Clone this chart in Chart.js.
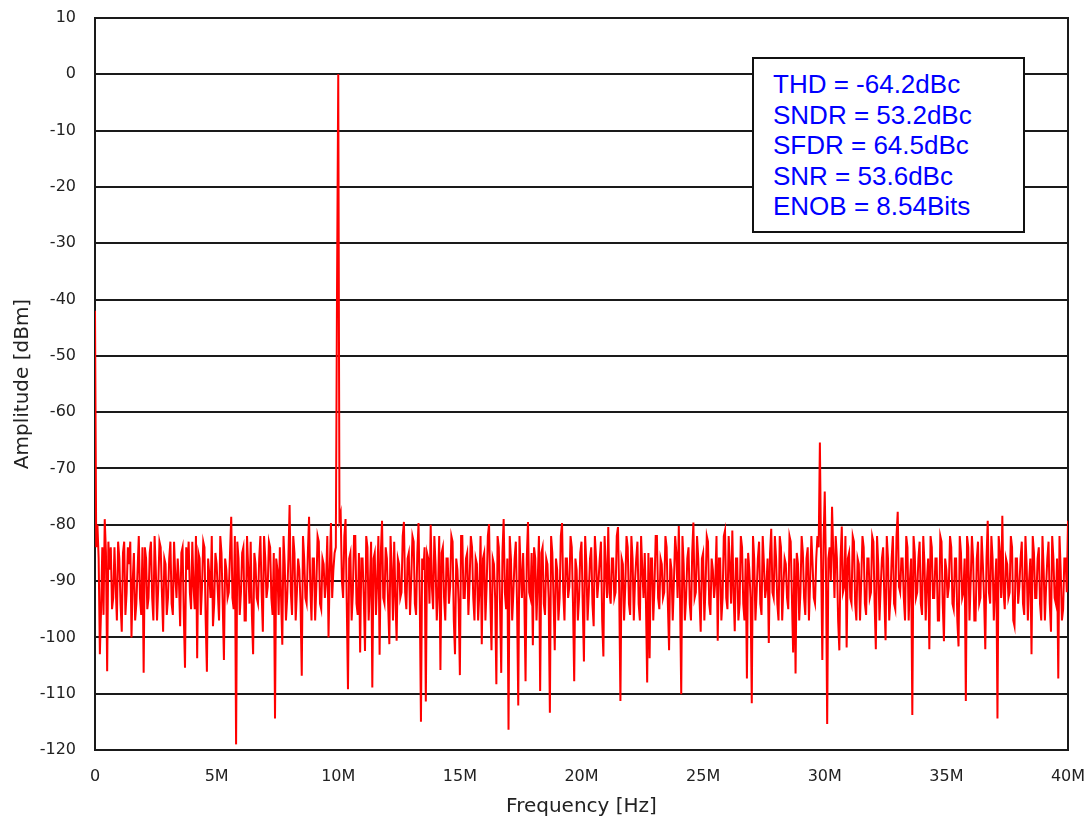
<!DOCTYPE html>
<html>
<head>
<meta charset="utf-8">
<script src="https://cdn.jsdelivr.net/npm/chart.js@4.4.1/dist/chart.umd.min.js"></script>
<style>
	body { margin: 0; background: #fff; }
	#wrap { position: relative; width: 1091px; height: 825px; }
	#stats {
		position: absolute; left: 752px; top: 57px; width: 273px; height: 176px;
		border: 2px solid #111; background: #fff; box-sizing: border-box;
		font-family: 'Liberation Sans', Arial, sans-serif; font-size: 26px; line-height: 30.6px;
		color: #0000ff; padding: 10px 0 0 19px;
	}
</style>
</head>
<body>
<div id="wrap">
	<canvas id="fft" width="1091" height="825"></canvas>
	<div id="stats">
		<div>THD = -64.2dBc</div>
		<div>SNDR = 53.2dBc</div>
		<div>SFDR = 64.5dBc</div>
		<div>SNR = 53.6dBc</div>
		<div>ENOB = 8.54Bits</div>
	</div>
</div>
<script>
// spectrum bins, 0.05 MHz apart (one row = 2 MHz)
const binWidth = 0.05e6;
const amplitude = [
	-42, -84, -80, -86, -103, -95, -84, -96, -79, -85, -106, -83, -88, -84, -95, -93, -84, -91, -97, -83, -86, -94, -99, -85, -83, -96, -92, -84, -87, -83, -100, -90, -85, -97, -94, -88, -82, -93, -96, -84,
	-106.3, -84, -86, -95, -93, -85, -83, -93, -97, -82, -88, -97, -91, -83, -84, -92, -99, -86, -87, -96, -93, -86, -83, -94, -96, -83, -89, -93, -86, -90, -98, -85, -84, -96, -105.4, -84, -88, -83, -92, -95,
	-83, -91, -95, -82, -103.7, -85, -86, -96, -91, -83, -84, -97, -106.1, -86, -89, -93, -82, -98, -94, -85, -87, -92, -97, -82, -85, -94, -104, -86, -88, -93, -92, -85, -78.6, -93, -95, -82, -119, -83, -86, -96,
	-92, -85, -84, -97, -97, -82, -88, -94, -83, -96, -103, -85, -87, -93, -94, -86, -82, -92, -99, -82, -86, -93, -91, -83, -84, -93, -96, -85, -114.4, -86, -88, -96, -84, -93, -101.3, -82, -87, -97, -93, -86,
	-76.5, -92, -96, -82, -85, -97, -92, -86, -88, -94, -106.8, -82, -86, -93, -94, -85, -78.6, -91, -97, -86, -86, -97, -91, -82, -83, -94, -95, -86, -87, -93, -90, -82, -100, -88, -79.7, -93, -88, -85, -84, -38,
	0, -79, -78, -90, -93, -82, -79, -94, -109.2, -86, -85, -97, -92, -82, -82, -94, -96, -85, -102.7, -86, -86, -93, -102.4, -82, -84, -97, -91, -83, -108.9, -86, -85, -96, -90, -82, -103.1, -85, -79.3, -93, -94, -84,
	-86, -94, -101.2, -82, -88, -97, -83, -93, -100.6, -86, -87, -93, -92, -82, -79.5, -92, -95, -86, -85, -96, -90, -82, -83, -94, -96, -85, -79.7, -93, -115, -86, -88, -84, -111.4, -85, -86, -94, -80, -91, -95, -82,
	-87, -97, -92, -82, -105.8, -85, -84, -93, -97, -86, -86, -94, -91, -82, -83, -97, -103, -86, -88, -94, -106.7, -82, -82, -93, -93, -86, -85, -96, -90, -82, -84, -93, -97, -86, -87, -97, -92, -82, -101.2, -86,
	-85, -97, -91, -82, -79.9, -93, -102.3, -86, -87, -93, -108.3, -82, -84, -94, -106.3, -85, -79, -92, -95, -86, -116.4, -82, -86, -97, -92, -86, -83, -94, -112.1, -82, -88, -93, -85, -93, -107.8, -86, -79.5, -92, -93, -85,
	-101.4, -84, -86, -97, -90, -82, -109.5, -85, -84, -94, -96, -86, -87, -93, -113.4, -82, -85, -93, -102.3, -86, -88, -97, -93, -82, -79.7, -92, -97, -86, -86, -93, -91, -82, -84, -94, -107.8, -86, -88, -97, -93, -85,
	-83, -94, -104.3, -82, -87, -97, -92, -86, -84, -94, -98, -82, -86, -93, -90, -86, -83, -97, -103.4, -82, -88, -93, -80.4, -92, -94, -86, -86, -93, -92, -82, -80.4, -92, -111.3, -86, -87, -97, -91, -82, -84, -94,
	-96, -82, -86, -97, -90, -86, -83, -94, -97, -82, -88, -93, -85, -94, -108, -85, -103.7, -86, -86, -97, -91, -82, -82, -93, -95, -86, -87, -93, -92, -82, -84, -94, -102.3, -86, -88, -97, -90, -82, -85, -93,
	-80.2, -93, -110.1, -82, -87, -97, -93, -86, -84, -94, -97, -85, -79.6, -93, -92, -82, -86, -93, -99, -86, -85, -97, -91, -82, -83, -94, -96, -86, -88, -93, -90, -82, -100.6, -86, -86, -97, -93, -82, -81, -93,
	-95, -82, -87, -94, -81, -92, -98.9, -86, -86, -97, -94, -82, -84, -94, -97, -86, -107.3, -85, -88, -93, -111.7, -82, -86, -97, -92, -86, -83, -94, -96, -82, -87, -93, -91, -86, -101, -85, -80.7, -92, -93, -82,
	-86, -94, -97, -82, -84, -97, -91, -86, -87, -93, -95, -82, -83, -93, -102.7, -86, -106.4, -85, -87, -97, -92, -82, -85, -93, -96, -86, -84, -97, -90, -82, -87, -93, -94, -86, -82, -84, -65.4, -86, -104, -83,
	-74.1, -88, -115.4, -86, -84, -90, -76.8, -85, -93, -82, -86, -97, -102.3, -86, -80.3, -92, -91, -82, -101.8, -86, -85, -93, -94, -82, -83, -94, -97, -86, -87, -97, -90, -82, -84, -94, -96, -86, -86, -93, -92, -82,
	-83, -94, -102.1, -82, -87, -97, -91, -86, -84, -93, -100.5, -82, -86, -97, -93, -86, -82, -94, -95, -82, -77.7, -91, -92, -86, -86, -93, -97, -82, -84, -97, -90, -86, -113.8, -82, -85, -93, -92, -86, -83, -94,
	-96, -82, -87, -97, -90, -86, -102.1, -82, -84, -93, -93, -86, -86, -97, -97, -82, -83, -94, -100.7, -86, -88, -93, -91, -82, -84, -94, -95, -86, -86, -97, -101.6, -82, -85, -93, -92, -86, -111.3, -82, -84, -97,
	-90, -82, -86, -97, -97, -86, -83, -94, -93, -82, -87, -93, -102.1, -86, -79.3, -92, -94, -82, -86, -97, -91, -86, -114.4, -82, -85, -93, -78.4, -92, -95, -86, -87, -93, -92, -82, -84, -97, -98, -86, -86, -94,
	-91, -86, -83, -94, -96, -82, -87, -97, -90, -86, -103, -82, -85, -93, -93, -86, -84, -94, -97, -82, -88, -97, -91, -86, -83, -94, -99, -82, -86, -93, -94, -86, -107.3, -82, -88, -97, -95, -86, -86, -92,
	-79.3
];
const xTicks = [0, 5e6, 10e6, 15e6, 20e6, 25e6, 30e6, 35e6, 40e6];

const points = amplitude.map((v, i) => ({ x: i * binWidth, y: v }));

const frame = {
	id: 'frame',
	beforeDatasetsDraw(chart) {
		const { ctx, chartArea: a } = chart;
		ctx.save();
		ctx.strokeStyle = '#1a1a1a';
		ctx.lineWidth = 2;
		ctx.strokeRect(a.left, a.top, a.right - a.left, a.bottom - a.top);
		ctx.restore();
	}
};

const tickFont = { family: 'DejaVu Sans', size: 16 };
const titleFont = { family: 'DejaVu Sans', size: 20 };

new Chart(document.getElementById('fft'), {
	type: 'line',
	data: {
		datasets: [{
			data: points,
			borderColor: '#ff0000',
			borderWidth: 2,
			pointRadius: 0,
			tension: 0
		}]
	},
	options: {
		responsive: false,
		animation: false,
		events: [],
		layout: { padding: { left: 0, top: 18, right: 23, bottom: 0 } },
		plugins: { legend: { display: false }, tooltip: { enabled: false } },
		scales: {
			x: {
				type: 'linear',
				min: 0,
				max: 40e6,
				afterFit(s) {
					s.height = 75;
					s.paddingLeft = 0;
					s.paddingRight = 0;
				},
				afterBuildTicks(s) { s.ticks = xTicks.map(v => ({ value: v })); },
				grid: { display: false, drawTicks: false },
				border: { display: false },
				ticks: {
					padding: 17,
					color: '#222',
					font: tickFont,
					maxRotation: 0,
					callback: v => v === 0 ? '0' : (v / 1e6) + 'M'
				},
				title: {
					display: true,
					text: 'Frequency [Hz]',
					color: '#222',
					font: titleFont,
					padding: { top: 0, bottom: 6 }
				}
			},
			y: {
				min: -120,
				max: 10,
				afterFit(s) {
					s.width = 95;
					s.paddingTop = 0;
					s.paddingBottom = 0;
				},
				grid: { color: '#1a1a1a', lineWidth: 2, drawTicks: false },
				border: { display: false },
				ticks: { stepSize: 10, padding: 19, color: '#222', font: tickFont },
				title: {
					display: true,
					text: 'Amplitude [dBm]',
					color: '#222',
					font: titleFont,
					padding: { top: 11, bottom: 0 }
				}
			}
		}
	},
	plugins: [frame]
});
</script>
</body>
</html>
